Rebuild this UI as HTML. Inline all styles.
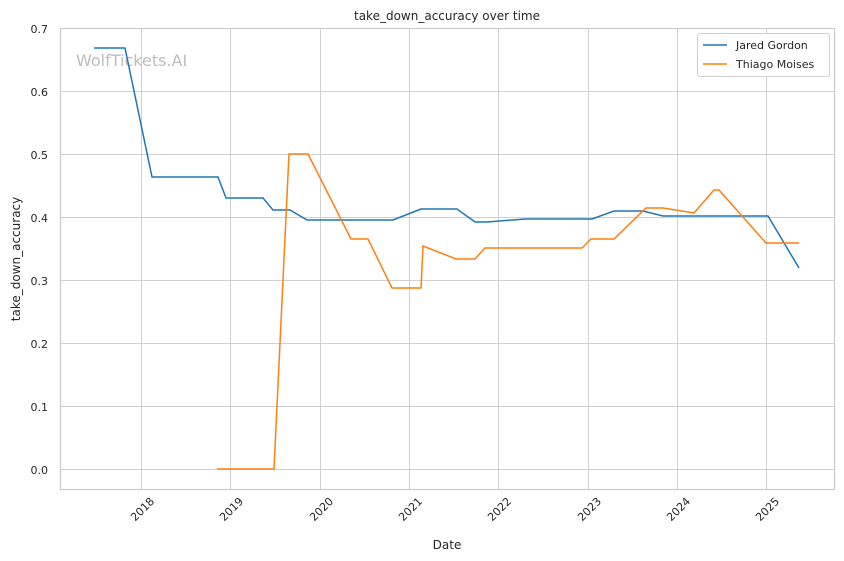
<!DOCTYPE html>
<html><head><style>body{margin:0;background:#fff}svg{display:block}text{font-family:"DejaVu Sans","Liberation Sans",sans-serif;fill:#262626}</style></head><body>
<svg width="844" height="561" viewBox="0 0 844 561" xmlns="http://www.w3.org/2000/svg">
<g stroke="#d0d0d0" stroke-width="1">
<line x1="60" x2="835" y1="28.5" y2="28.5"/><line x1="60" x2="835" y1="91.5" y2="91.5"/><line x1="60" x2="835" y1="154.5" y2="154.5"/><line x1="60" x2="835" y1="217.5" y2="217.5"/><line x1="60" x2="835" y1="280.5" y2="280.5"/><line x1="60" x2="835" y1="343.5" y2="343.5"/><line x1="60" x2="835" y1="406.5" y2="406.5"/><line x1="60" x2="835" y1="469.5" y2="469.5"/>
<line x1="141.5" x2="141.5" y1="28" y2="490"/><line x1="230.5" x2="230.5" y1="28" y2="490"/><line x1="320.5" x2="320.5" y1="28" y2="490"/><line x1="409.5" x2="409.5" y1="28" y2="490"/><line x1="498.5" x2="498.5" y1="28" y2="490"/><line x1="588.5" x2="588.5" y1="28" y2="490"/><line x1="677.5" x2="677.5" y1="28" y2="490"/><line x1="766.5" x2="766.5" y1="28" y2="490"/>
</g>
<rect x="60.5" y="28.5" width="774" height="461" fill="none" stroke="#cccccc" stroke-width="1.2"/>
<text x="76" y="66" font-size="16" style="fill:#bdbdbd">WolfTickets.AI</text>
<g font-size="11" text-anchor="end">
<text x="48" y="33">0.7</text><text x="48" y="96">0.6</text><text x="48" y="159">0.5</text><text x="48" y="222">0.4</text><text x="48" y="285">0.3</text><text x="48" y="348">0.2</text><text x="48" y="411">0.1</text><text x="48" y="474">0.0</text>
</g>
<g font-size="11" text-anchor="end">
<text transform="translate(155,502) rotate(-45)">2018</text><text transform="translate(244,502) rotate(-45)">2019</text><text transform="translate(334,502) rotate(-45)">2020</text><text transform="translate(423,502) rotate(-45)">2021</text><text transform="translate(512,502) rotate(-45)">2022</text><text transform="translate(602,502) rotate(-45)">2023</text><text transform="translate(691,502) rotate(-45)">2024</text><text transform="translate(780,502) rotate(-45)">2025</text>
</g>
<text x="447" y="549" font-size="12" text-anchor="middle">Date</text>
<text transform="translate(20,259) rotate(-90)" font-size="12" text-anchor="middle">take_down_accuracy</text>
<text x="447" y="20" font-size="12" text-anchor="middle">take_down_accuracy over time</text>
<polyline fill="none" stroke="#1f77b4" stroke-width="1.5" points="94,48 125,48 152,177 218,177 226,198 263,198 273,210 290,210 307,220 393,220 421,209 457,209 475,222 487,222 525,219 592,219 614,211 643,211 663,216 768,216 799,268"/>
<polyline fill="none" stroke="#ff7f0e" stroke-width="1.5" points="217,469 274,469 289,154 308,154 351,239 368,239 392,288 421,288 423,246 456,259 475,259 485,248 582,248 591,239 614,239 646,208 663,208 694,213 714,190 719,190 766,243 799,243"/>
<rect x="697.5" y="33.5" width="132" height="43" rx="3" fill="#fff" stroke="#d0d0d0"/>
<line x1="703" x2="727" y1="45" y2="45" stroke="#1f77b4" stroke-width="1.5"/>
<line x1="703" x2="727" y1="64" y2="64" stroke="#ff7f0e" stroke-width="1.5"/>
<text x="736" y="49" font-size="11">Jared Gordon</text>
<text x="736" y="68" font-size="11">Thiago Moises</text>
</svg>
</body></html>
